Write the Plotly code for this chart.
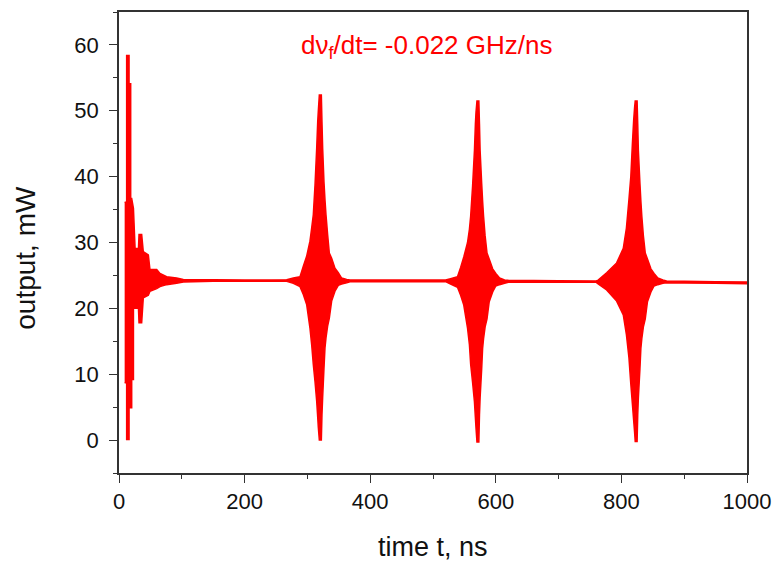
import plotly.graph_objects as go

# ---- data: envelope of the oscillating output (upper / lower) ----
b1_t  = [9, 12.2, 12.2, 16.0, 16.0, 18.6, 18.6, 20.2, 20.2, 23.0, 23.0, 25.6, 25.6, 31.0, 31.9, 36.1, 38.7, 46.7, 49.3, 60, 65.3, 75.9, 91.7, 102.4, 150, 200, 240]
b1_hi = [36.1, 36.1, 58.4, 58.4, 54.1, 54.1, 36.7, 36.7, 36.7, 35.2, 35.2, 29.1, 29.1, 29.1, 31.2, 31.2, 28.6, 28.1, 25.9, 25.9, 25.3, 24.8, 24.6, 24.4, 24.35, 24.3, 24.3]
b1_lo = [8.7, 8.7, 0.1, 0.1, 4.9, 4.9, 4.9, 4.9, 9.2, 9.2, 20.0, 20.0, 20.0, 20.0, 17.8, 17.8, 21.6, 22.0, 22.6, 23.0, 23.3, 23.6, 23.8, 24.0, 24.1, 24.1, 24.1]

b2_t  = [267, 277.6, 288.2, 293.5, 298.8, 304.1, 306.8, 309.4, 312.1, 314.8, 316.4, 317.4, 319.0, 322.2, 323.2, 324.3, 326.4, 328.0, 329.6, 332.2, 334.9, 338.6, 343.9, 349.2, 354.5, 362.6, 367.8, 450]
b2_hi = [24.35, 24.6, 24.8, 26.4, 27.9, 30.2, 32.2, 34.2, 38.7, 44.3, 48.3, 50.0, 52.4, 52.4, 48.3, 44.3, 39.2, 36.5, 34.2, 31.2, 28.4, 27.6, 26.1, 25.4, 24.6, 24.4, 24.3, 24.3]
b2_lo = [24.1, 23.8, 23.3, 22.1, 20.6, 17.0, 14.5, 11.5, 8.9, 5.9, 3.5, 1.9, 0.0, 0.0, 3.9, 6.5, 10.9, 14.0, 15.5, 17.3, 18.5, 21.1, 22.6, 23.5, 23.7, 23.9, 24.05, 24.05]

b3_t  = [520, 528, 539, 544, 549, 555, 558, 560, 563, 566, 567.5, 568.5, 570, 573, 574, 575, 577.5, 579, 580.5, 583, 586, 589.5, 595, 600, 606, 614, 620, 700]
b3_hi = [24.3, 24.5, 24.8, 26.2, 27.8, 30.0, 32.0, 34.0, 38.5, 44.0, 48.0, 49.8, 51.5, 51.5, 48.0, 44.0, 39.0, 36.3, 34.0, 31.0, 28.4, 27.5, 26.0, 25.3, 24.6, 24.3, 24.25, 24.2]
b3_lo = [24.05, 23.7, 23.2, 22.0, 20.5, 17.0, 14.5, 11.5, 8.8, 5.8, 3.4, 1.8, -0.3, -0.3, 3.8, 6.4, 10.8, 13.9, 15.4, 17.2, 18.4, 21.0, 22.5, 23.4, 23.6, 23.8, 23.95, 23.95]

b4_t  = [760, 763, 776.5, 792.4, 803, 808, 812, 815, 817.5, 819.5, 821, 822, 825, 826, 827, 829.5, 831, 832.5, 835, 838, 841.5, 847, 852, 858, 866, 872]
b4_hi = [24.15, 24.3, 25.4, 26.9, 29.1, 32.2, 36.5, 40.0, 45.0, 48.5, 50.5, 51.5, 51.5, 48.0, 44.0, 39.0, 36.3, 34.0, 31.0, 28.4, 27.5, 26.0, 25.3, 24.6, 24.3, 24.15]
b4_lo = [23.95, 23.7, 22.8, 21.1, 19.0, 16.0, 12.5, 8.5, 5.5, 3.0, 1.2, -0.2, -0.2, 3.8, 6.4, 10.8, 13.9, 15.4, 17.2, 18.4, 21.0, 22.5, 23.4, 23.6, 23.8, 23.9]

tail_t  = [900, 950, 1000]
tail_hi = [24.1, 24.05, 24.0]
tail_lo = [23.85, 23.8, 23.75]

x_ticks = [0, 200, 400, 600, 800, 1000]
y_ticks = [0, 10, 20, 30, 40, 50, 60]

t_all = b1_t + b2_t + b3_t + b4_t + tail_t
hi_all = b1_hi + b2_hi + b3_hi + b4_hi + tail_hi
lo_all = b1_lo + b2_lo + b3_lo + b4_lo + tail_lo

RED = "#ff0000"
FONT = "Arial, Liberation Sans, sans-serif"

fig = go.Figure()
fig.add_trace(go.Scatter(
    x=t_all + t_all[::-1],
    y=hi_all + lo_all[::-1],
    fill="toself", fillcolor=RED,
    line=dict(color=RED, width=1.5, simplify=False),
    mode="lines", hoverinfo="skip", showlegend=False,
))

axis_common = dict(
    showline=True, linecolor="#333333", linewidth=1.5, mirror=True,
    ticks="outside", ticklen=8, tickwidth=1.3, tickcolor="#333333",
    showgrid=False, zeroline=False,
    tickfont=dict(family=FONT, size=22, color="#111111"),
)

fig.update_xaxes(range=[0, 1000], tickvals=x_ticks, ticklabelstandoff=0,
                 minor=dict(dtick=100, ticks="outside", ticklen=4, tickwidth=1.2, tickcolor="#333333"),
                 **axis_common)
fig.update_yaxes(range=[-5, 65], tickvals=y_ticks, ticklabelstandoff=6,
                 minor=dict(dtick=5, ticks="outside", ticklen=4, tickwidth=1.2, tickcolor="#333333"),
                 **axis_common)

fig.add_annotation(text="dν<sub>f</sub>/dt= -0.022 GHz/ns", x=0.49, y=0.925, xref="paper", yref="paper",
                   xanchor="center", yanchor="middle", showarrow=False,
                   font=dict(family=FONT, size=26, color=RED))
fig.add_annotation(text="output, mW", x=-0.148, y=0.467, xref="paper", yref="paper",
                   xanchor="center", yanchor="middle", textangle=-90, showarrow=False,
                   font=dict(family=FONT, size=28, color="#111111"))
fig.add_annotation(text="time t, ns", x=0.5, y=-0.16, xref="paper", yref="paper",
                   xanchor="center", yanchor="middle", showarrow=False,
                   font=dict(family=FONT, size=27, color="#111111"))

fig.update_layout(
    width=781, height=562,
    margin=dict(l=119, r=34, t=10, b=89),
    paper_bgcolor="white", plot_bgcolor="white",
)

fig.write_html("out.html")
